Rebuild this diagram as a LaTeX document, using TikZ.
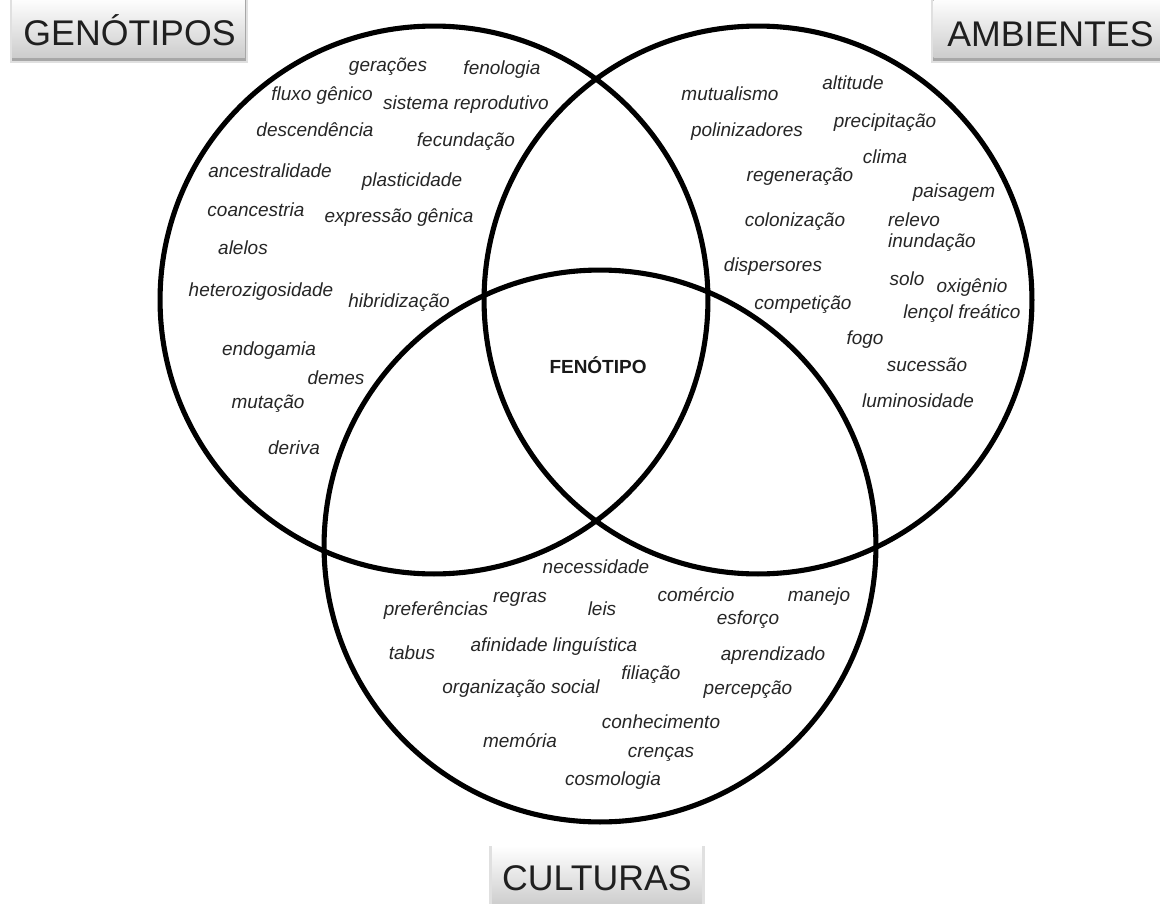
\documentclass[tikz,border=0pt]{standalone}
\usepackage{fontspec}
\setmainfont{Liberation Sans}
\begin{document}
\begin{tikzpicture}[x=0.02cm,y=-0.02cm,
  circ/.style={circle,draw=black,line width=2.9pt,minimum size=10.96cm,inner sep=0pt},
  circb/.style={circle,draw=black,line width=2.9pt,minimum size=11.04cm,inner sep=0pt},
  word/.style={font=\fontsize{10.8}{13}\selectfont\itshape,text=black!85,inner sep=0pt,anchor=mid},
  ttl/.style={font=\fontsize{20.3}{24}\selectfont,text=black!88,inner sep=0pt,anchor=base},
  tbox/.style={rectangle,inner sep=0pt,top color=white,bottom color=black!20,draw=none},
  shd/.style={rectangle,inner sep=0pt,fill=black,draw=none}
]
\useasboundingbox (0,0) rectangle (1160,903);
\fill[white] (0,0) rectangle (1160,903);

% title boxes with shadows
\node[shd,opacity=0.12,minimum width=4.78cm,minimum height=1.3cm] (gs2) at (129,31) {};
\node[shd,opacity=0.25,minimum width=4.70cm,minimum height=1.24cm] (gs1) at (129,30.5) {};
\node[tbox,minimum width=4.66cm,minimum height=1.2cm] (gbox) at (128.5,28) {};
\node[ttl] (gt) at (129.5,45) {GENÓTIPOS};

\node[shd,opacity=0.12,minimum width=4.78cm,minimum height=1.3cm] (as2) at (1050,31) {};
\node[shd,opacity=0.25,minimum width=4.70cm,minimum height=1.24cm] (as1) at (1050,30.5) {};
\node[tbox,minimum width=4.66cm,minimum height=1.2cm] (abox) at (1050,28) {};
\node[ttl] (at) at (1050.5,46) {AMBIENTES};

\node[shd,opacity=0.12,minimum width=4.32cm,minimum height=1.3cm] (cs2) at (597,878) {};
\node[tbox,minimum width=4.2cm,minimum height=1.2cm] (cbox) at (597,876) {};
\node[ttl] (ct) at (597,890) {CULTURAS};

% circles
\node[circ] (G) at (434,300) {};
\node[circ] (A) at (758,300) {};
\node[circb] (C) at (600,546) {};

\node[font=\fontsize{10.8}{13}\selectfont\bfseries,text=black!90,inner sep=0pt,anchor=base] (F) at (598,373) {FENÓTIPO};

% genotipos
\node[word] (w1) at (388,67) {gerações};
\node[word] (w2) at (502,70) {fenologia};
\node[word] (w3) at (322,96) {fluxo gênico};
\node[word] (w4) at (466,105) {sistema reprodutivo};
\node[word] (w5) at (315,132) {descendência};
\node[word] (w6) at (466,142) {fecundação};
\node[word] (w7) at (270,173) {ancestralidade};
\node[word] (w8) at (412,182) {plasticidade};
\node[word] (w9) at (256,212) {coancestria};
\node[word] (w10) at (399,218) {expressão gênica};
\node[word] (w11) at (243,250) {alelos};
\node[word] (w12) at (261,292) {heterozigosidade};
\node[word] (w13) at (399,303) {hibridização};
\node[word] (w14) at (269,351) {endogamia};
\node[word] (w15) at (336,380) {demes};
\node[word] (w16) at (268,404) {mutação};
\node[word] (w17) at (294,450) {deriva};

% ambientes
\node[word] (a1) at (730,96) {mutualismo};
\node[word] (a2) at (853,85) {altitude};
\node[word] (a3) at (747,132) {polinizadores};
\node[word] (a4) at (885,123) {precipitação};
\node[word] (a5) at (885,159) {clima};
\node[word] (a6) at (800,177) {regeneração};
\node[word] (a7) at (954,193) {paisagem};
\node[word] (a8) at (795,222) {colonização};
\node[word] (a9) at (914,222) {relevo};
\node[word] (a10) at (932,243) {inundação};
\node[word] (a11) at (773,267) {dispersores};
\node[word] (a12) at (907,281) {solo};
\node[word] (a13) at (972,288) {oxigênio};
\node[word] (a14) at (803,305) {competição};
\node[word] (a15) at (962,314) {lençol freático};
\node[word] (a16) at (865,340) {fogo};
\node[word] (a17) at (927,367) {sucessão};
\node[word] (a18) at (918,403) {luminosidade};

% culturas
\node[word] (c1) at (596,569) {necessidade};
\node[word] (c2) at (520,598) {regras};
\node[word] (c3) at (436,611) {preferências};
\node[word] (c4) at (602,611) {leis};
\node[word] (c5) at (696,597) {comércio};
\node[word] (c6) at (819,597) {manejo};
\node[word] (c7) at (748,620) {esforço};
\node[word] (c8) at (412,655) {tabus};
\node[word] (c9) at (554,647) {afinidade linguística};
\node[word] (c10) at (773,656) {aprendizado};
\node[word] (c11) at (651,675) {filiação};
\node[word] (c12) at (521,689) {organização social};
\node[word] (c13) at (748,690) {percepção};
\node[word] (c14) at (661,724) {conhecimento};
\node[word] (c15) at (520,743) {memória};
\node[word] (c16) at (661,753) {crenças};
\node[word] (c17) at (613,781) {cosmologia};
\end{tikzpicture}
\end{document}
